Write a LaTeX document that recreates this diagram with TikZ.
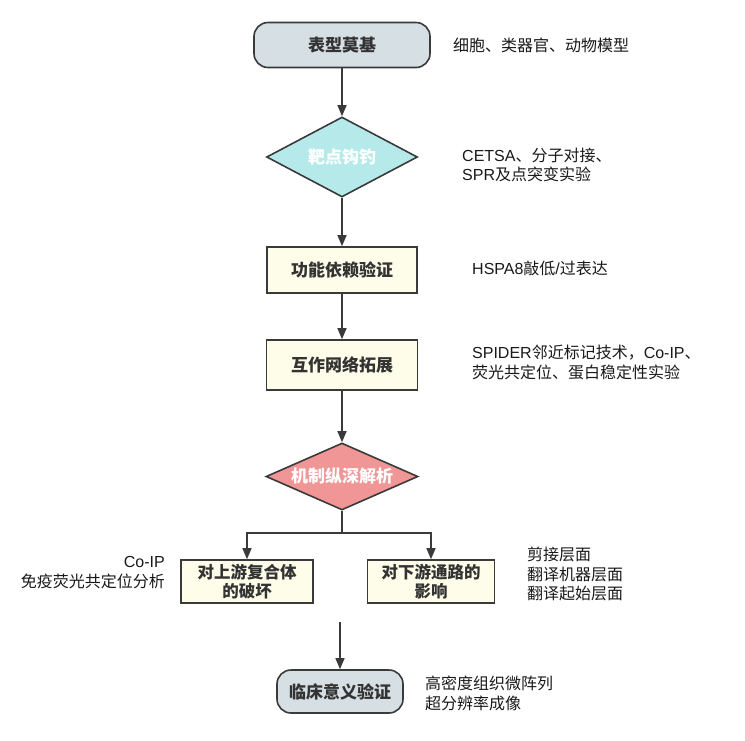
\documentclass[tikz,border=0pt]{standalone}
\usepackage{fontspec}
\setmainfont{Noto Sans CJK SC}
\newfontfamily\lat{Liberation Sans}
\usetikzlibrary{arrows.meta,shapes.geometric,calc}
\definecolor{edgec}{HTML}{3A3A3A}
\definecolor{termfill}{HTML}{D6DFE3}
\definecolor{cyanfill}{HTML}{B6EAEA}
\definecolor{boxfill}{HTML}{FDFDE9}
\definecolor{redfill}{HTML}{F19696}
\definecolor{txt}{HTML}{333333}
\tikzset{
  nodefont/.style={font=\fontsize{17}{20}\selectfont\bfseries, text=txt},
  term/.style={draw=edgec, line width=1.6pt, fill=termfill, rounded corners=14pt, nodefont, inner sep=0pt},
  stepbox/.style={draw=edgec, line width=1.6pt, fill=boxfill, nodefont, inner sep=0pt, align=center},
  dia/.style={shape=diamond, draw=edgec, line width=1.6pt, inner sep=0pt},
  diatext/.style={font=\fontsize{17}{20}\selectfont\bfseries, text=white},
  note/.style={font=\fontsize{16}{19.5}\selectfont, text=black!90, inner sep=0pt},
  conn/.style={draw=edgec, line width=1.4pt},
  arr/.style={conn, -{Triangle[length=11pt,width=9pt]}},
}
\begin{document}
\begin{tikzpicture}[x=1pt,y=-1pt]
\useasboundingbox (0,0) rectangle (745,740);
% main column
\node[term, minimum width=176, minimum height=45] (a) at (342,45) {表型莫基};
\node[dia, fill=cyanfill, minimum width=151, minimum height=80, label={[diatext]center:靶点钩钓}] (d1) at (342,157) {};
\node[stepbox, minimum width=150, minimum height=46] (f) at (342,270) {功能依赖验证};
\node[stepbox, minimum width=151, minimum height=50] (g) at (342,365) {互作网络拓展};
\node[dia, fill=redfill, minimum width=152, minimum height=67, label={[diatext]center:机制纵深解析}] (m) at (342,476.5) {};
\node[stepbox, minimum width=132, minimum height=43, font=\fontsize{16.5}{19}\selectfont\bfseries] (u) at (247,581.5) {对上游复合体\\的破坏};
\node[stepbox, minimum width=127, minimum height=43, font=\fontsize{16.5}{19}\selectfont\bfseries] (v) at (431,581.5) {对下游通路的\\影响};
\node[term, minimum width=126, minimum height=43] (c) at (340,691.5) {临床意义验证};
% connectors
\draw[arr] (a.south) -- (d1.north);
\draw[arr] (d1.south) -- (f.north);
\draw[arr] (f.south) -- (g.north);
\draw[arr] (g.south) -- (m.north);
\coordinate (j) at (342,533);
\draw[conn] (m.south) -- (j);
\draw[arr] (j) -| (u.north);
\draw[arr] (j) -| (v.north);
\coordinate (s) at (340,622);
\draw[arr] (s) -- (c.north);
% annotations
\node[note, anchor=west] (n1) at (453,45) {细胞、类器官、动物模型};
\node[note, anchor=west, align=left] (n2) at (462,165) {{\lat CETSA}、分子对接、\\{\lat SPR}及点突变实验};
\node[note, anchor=west] (n3) at (472,268) {{\lat HSPA8}敲低{\lat /}过表达};
\node[note, anchor=west, align=left] (n4) at (472,362.5) {{\lat SPIDER}邻近标记技术，{\lat Co-IP}、\\荧光共定位、蛋白稳定性实验};
\node[note, anchor=east, align=right] (n5) at (165,572.5) {{\lat Co-IP}\\免疫荧光共定位分析};
\node[note, anchor=west, align=left] (n6) at (527,574) {剪接层面\\翻译机器层面\\翻译起始层面};
\node[note, anchor=west, align=left] (n7) at (425,693.5) {高密度组织微阵列\\超分辨率成像};
\end{tikzpicture}
\end{document}
